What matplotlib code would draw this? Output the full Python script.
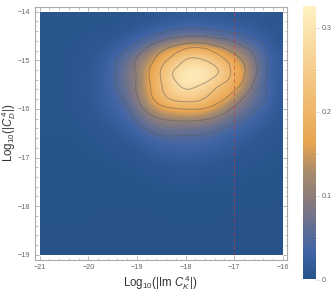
import numpy as np
import matplotlib
matplotlib.use("Agg")
import matplotlib.pyplot as plt
import matplotlib.tri as mtri
from matplotlib.colors import LinearSegmentedColormap
from matplotlib.ticker import MultipleLocator

plt.rcParams['font.family'] = ['Liberation Sans', 'DejaVu Sans']
plt.rcParams['mathtext.fontset'] = 'custom'
plt.rcParams['mathtext.rm'] = 'Liberation Sans'
plt.rcParams['mathtext.it'] = 'Liberation Sans:italic'

# density, one row per log10|C_D| value, x from -21 to -16
x_vals = np.arange(-21, -15.9, 0.25)
y_vals = np.arange(-14, -19.1, -0.25)
density = [
    [.004, .004, .004, .004, .004, .004, .004, .005, .006, .008, .010, .012, .014, .014, .014, .014, .012, .010, .010, .008, .006],
    [.005, .005, .005, .005, .005, .005, .006, .009, .014, .020, .028, .036, .040, .040, .036, .030, .026, .022, .016, .012, .008],
    [.005, .005, .005, .005, .006, .008, .012, .022, .032, .048, .066, .084, .095, .097, .090, .078, .066, .052, .036, .020, .010],
    [.005, .005, .005, .006, .009, .014, .026, .045, .072, .110, .150, .185, .215, .225, .205, .175, .140, .100, .072, .035, .014],
    [.005, .005, .005, .006, .011, .020, .042, .070, .105, .150, .200, .240, .282, .288, .270, .235, .195, .150, .085, .042, .018],
    [.005, .005, .005, .007, .013, .024, .042, .075, .105, .170, .225, .282, .315, .325, .305, .265, .205, .165, .090, .040, .018],
    [.005, .005, .005, .007, .013, .024, .042, .072, .105, .165, .218, .262, .295, .287, .255, .218, .190, .140, .068, .043, .016],
    [.005, .005, .005, .007, .012, .022, .034, .058, .098, .155, .205, .235, .248, .240, .212, .185, .145, .092, .064, .042, .014],
    [.005, .005, .005, .006, .010, .018, .028, .042, .075, .118, .150, .165, .172, .172, .158, .128, .090, .066, .048, .028, .012],
    [.004, .004, .004, .005, .008, .013, .019, .028, .052, .075, .092, .098, .100, .098, .088, .073, .058, .042, .028, .017, .010],
    [.004, .004, .004, .004, .006, .009, .012, .018, .028, .044, .056, .056, .055, .054, .050, .040, .030, .022, .015, .010, .007],
    [.003, .003, .003, .003, .004, .006, .007, .010, .015, .022, .030, .034, .035, .034, .030, .024, .018, .013, .010, .007, .005],
    [.003, .003, .003, .003, .003, .004, .005, .006, .008, .012, .016, .019, .020, .019, .017, .014, .010, .008, .006, .005, .004],
    [.002, .002, .002, .002, .002, .003, .003, .004, .005, .007, .009, .010, .011, .010, .009, .008, .006, .005, .004, .004, .003],
    [.002, .002, .002, .002, .002, .002, .002, .003, .003, .004, .005, .006, .006, .006, .005, .005, .004, .003, .003, .003, .002],
    [.002, .002, .002, .002, .002, .002, .002, .002, .002, .003, .003, .004, .004, .004, .003, .003, .003, .002, .002, .002, .002],
    [.002, .002, .002, .002, .002, .002, .002, .002, .002, .002, .002, .002, .002, .002, .002, .002, .002, .002, .002, .002, .001],
    [.002, .002, .002, .002, .001, .001, .001, .001, .001, .001, .001, .002, .002, .002, .002, .001, .001, .001, .001, .001, .001],
    [.001, .001, .001, .001, .001, .001, .001, .001, .001, .001, .001, .001, .001, .001, .001, .001, .001, .001, .001, .001, .001],
    [.001, .001, .001, .001, .001, .001, .001, .001, .001, .001, .001, .001, .001, .001, .001, .001, .001, .001, .001, .001, .001],
    [.001, .001, .001, .001, .001, .001, .001, .001, .001, .001, .001, .001, .001, .001, .001, .001, .001, .001, .001, .001, .001],
]
levels = [0.05, 0.10, 0.17, 0.22, 0.28]
xticks = [-21, -20, -19, -18, -17, -16]
yticks = [-14, -15, -16, -17, -18, -19]
cbar_ticks = [0, 0.1, 0.2, 0.3]
cbar_labels = ['0', '0.1', '0.2', '0.3']
bound_x = -17
bound_y = [-14, -19]

cmap_max = 0.326
stops = [(0, '#27538a'), (.031, '#3f64a6'), (.09, '#857a80'), (.127, '#a98c6c'), (.163, '#e9a550'),
         (.25, '#f6cd8d'), (cmap_max, '#fff2c4')]
cmap = LinearSegmentedColormap.from_list('wolfram', [(v / cmap_max, c) for v, c in stops])

W, H = 332, 298
fig = plt.figure(figsize=(W / 100, H / 100), dpi=100)

def px_axes(x0, y0, x1, y1):
    return fig.add_axes([x0 / W, 1 - y1 / H, (x1 - x0) / W, (y1 - y0) / H])

gray = '#aaaaaa'
txt = '#666666'
ax = px_axes(34.5, 6.7, 287.3, 260)
per_px = 5 / 243.0
ax.set_xlim(-21 - 5.2 * per_px, -16 + 4.6 * per_px)
ax.set_ylim(-19 - 5.3 * per_px, -14 + 5 * per_px)

Z = np.array(density)
im = ax.imshow(Z, extent=[-21, -16, -19, -14], origin='upper', cmap=cmap, vmin=0, vmax=cmap_max,
               interpolation='bicubic', aspect='auto')

# refine the read grid so the contours come out round
xx, yy = np.meshgrid(x_vals, y_vals)
tri = mtri.Triangulation(xx.ravel(), yy.ravel())
tri2, z2 = mtri.UniformTriRefiner(tri).refine_field(Z.ravel(), subdiv=3)
ax.tricontour(tri2, z2, levels=levels, colors='#5a5a5a', linewidths=0.7, alpha=0.5)
ax.plot([bound_x, bound_x], bound_y, color='#d8343c', lw=0.75, ls=(0, (3.4, 3.0)), alpha=0.6)

ax.set_xticks(xticks)
ax.set_yticks(yticks)
ax.set_xticklabels([str(t).replace('-', '\u2212') for t in xticks])
ax.set_yticklabels([str(t).replace('-', '\u2212') for t in yticks])
ax.xaxis.set_minor_locator(MultipleLocator(0.2))
ax.yaxis.set_minor_locator(MultipleLocator(0.2))
ax.tick_params(which='major', direction='in', length=3.2, width=0.6, color=gray, labelsize=5.2,
               labelcolor=txt, pad=3, top=True, right=True)
ax.tick_params(which='minor', direction='in', length=1.8, width=0.5, color=gray, top=True, right=True)
for s in ax.spines.values():
    s.set_color(gray)
    s.set_linewidth(0.8)

fig.text(160.5 / W, 1 - 283 / H, r'Log$_{10}$(|Im $\mathit{C}_{\mathit{K}}^{\,4}$|)', ha='center', va='center',
         fontsize=8.3, color='#333333')
fig.text(8.5 / W, 1 - 133 / H, r'Log$_{10}$(|$\mathit{C}_{\mathit{D}}^{\,4}$|)', ha='center', va='center',
         rotation=90, fontsize=8.3, color='#333333')

cax = px_axes(303.3, 6, 315.7, 279.5)
grad = np.linspace(cmap_max, 0, 256).reshape(-1, 1)
cax.imshow(grad, extent=[0, 1, 0, cmap_max], cmap=cmap, vmin=0, vmax=cmap_max, aspect='auto')
cax.set_xticks([])
cax.yaxis.tick_right()
cax.set_yticks(cbar_ticks)
cax.set_yticklabels(cbar_labels)
cax.yaxis.set_minor_locator(MultipleLocator(0.05))
cax.tick_params(which='major', length=2, width=0.5, color='#cccccc', labelsize=5.2, labelcolor=txt, pad=2)
cax.tick_params(which='minor', length=1.2, width=0.5, color='#cccccc')
for s in cax.spines.values():
    s.set_visible(False)

fig.savefig('out.png', dpi=100)
